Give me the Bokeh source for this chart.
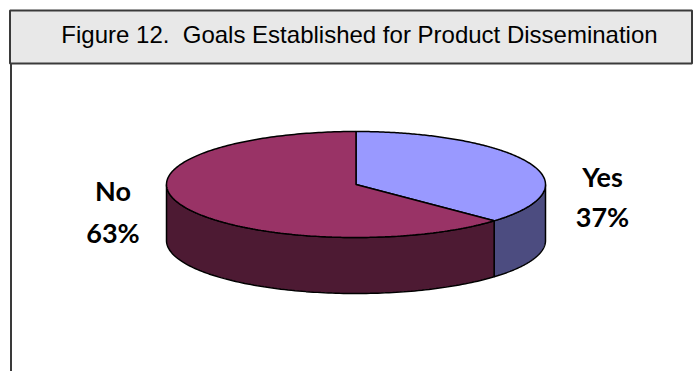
import numpy as np
from bokeh.plotting import figure
from bokeh.models import Range1d
from bokeh.core.properties import value
from bokeh.embed import file_html
from bokeh.resources import INLINE

# ---- data ----
categories = ["Yes", "No"]
shares = [37, 63]
pct_labels = ["37%", "63%"]
title_text = "Figure 12.\u00a0\u00a0Goals Established for Product Dissemination"

top_colors = ["#9999ff", "#993366"]
side_colors = ["#4c4c80", "#4d1a33"]

W, H = 693, 371
p = figure(width=W, height=H, output_backend="svg", toolbar_location=None,
           x_range=Range1d(0, W), y_range=Range1d(H, 0), min_border=0)
p.axis.visible = False
p.grid.visible = False
p.outline_line_color = None
p.background_fill_color = "white"

# frame: title box + left rule
p.quad(left=[9.5], right=[691.5], top=[10], bottom=[63], fill_color="#e8e8e8",
       line_color="#3a3a3a", line_width=2)
p.segment(x0=[10.5], y0=[63], x1=[10.5], y1=[H], line_color="#3a3a3a", line_width=2)
p.text(x=[359], y=[34], text=[title_text], text_align="center", text_baseline="middle",
       text_font=value("Liberation Sans"), text_font_size="24px", text_color="black")

# ---- 3D pie ----
cx, cy, rx, ry, depth = 355.5, 184.0, 189.5, 53.0, 56.0
fr = np.array(shares, dtype=float) / sum(shares)
bounds = np.concatenate([[0.0], np.cumsum(fr) * 2 * np.pi])  # clockwise from 12 o'clock


def ell(t, dy=0.0):
    return cx + rx * np.sin(t), cy - ry * np.cos(t) + dy


# side walls (visible front half: pi/2 .. 3pi/2)
for i in range(len(shares)):
    a, b = max(bounds[i], np.pi / 2), min(bounds[i + 1], 3 * np.pi / 2)
    if b <= a:
        continue
    t = np.linspace(a, b, 120)
    xt, yt = ell(t)
    xb, yb = ell(t[::-1], depth)
    p.patch(np.concatenate([xt, xb]), np.concatenate([yt, yb]),
            fill_color=side_colors[i], line_color="black", line_width=1.5)

# top wedges
for i in range(len(shares)):
    t = np.linspace(bounds[i], bounds[i + 1], 240)
    xt, yt = ell(t)
    p.patch(np.concatenate([[cx], xt]), np.concatenate([[cy], yt]),
            fill_color=top_colors[i], line_color="black", line_width=1.5)

# labels
lab_x = [602, 112.5]
name_y = [176, 190]
pct_y = [216, 232]
font = value("Lato")
p.text(x=lab_x, y=name_y, text=categories, text_align="center", text_baseline="middle",
       text_font=font, text_font_style="bold", text_font_size="27px", text_color="black")
p.text(x=lab_x, y=pct_y, text=pct_labels, text_align="center", text_baseline="middle",
       text_font=font, text_font_style="bold", text_font_size="27px", text_color="black")

open("out.html", "w").write(file_html(p, INLINE))
